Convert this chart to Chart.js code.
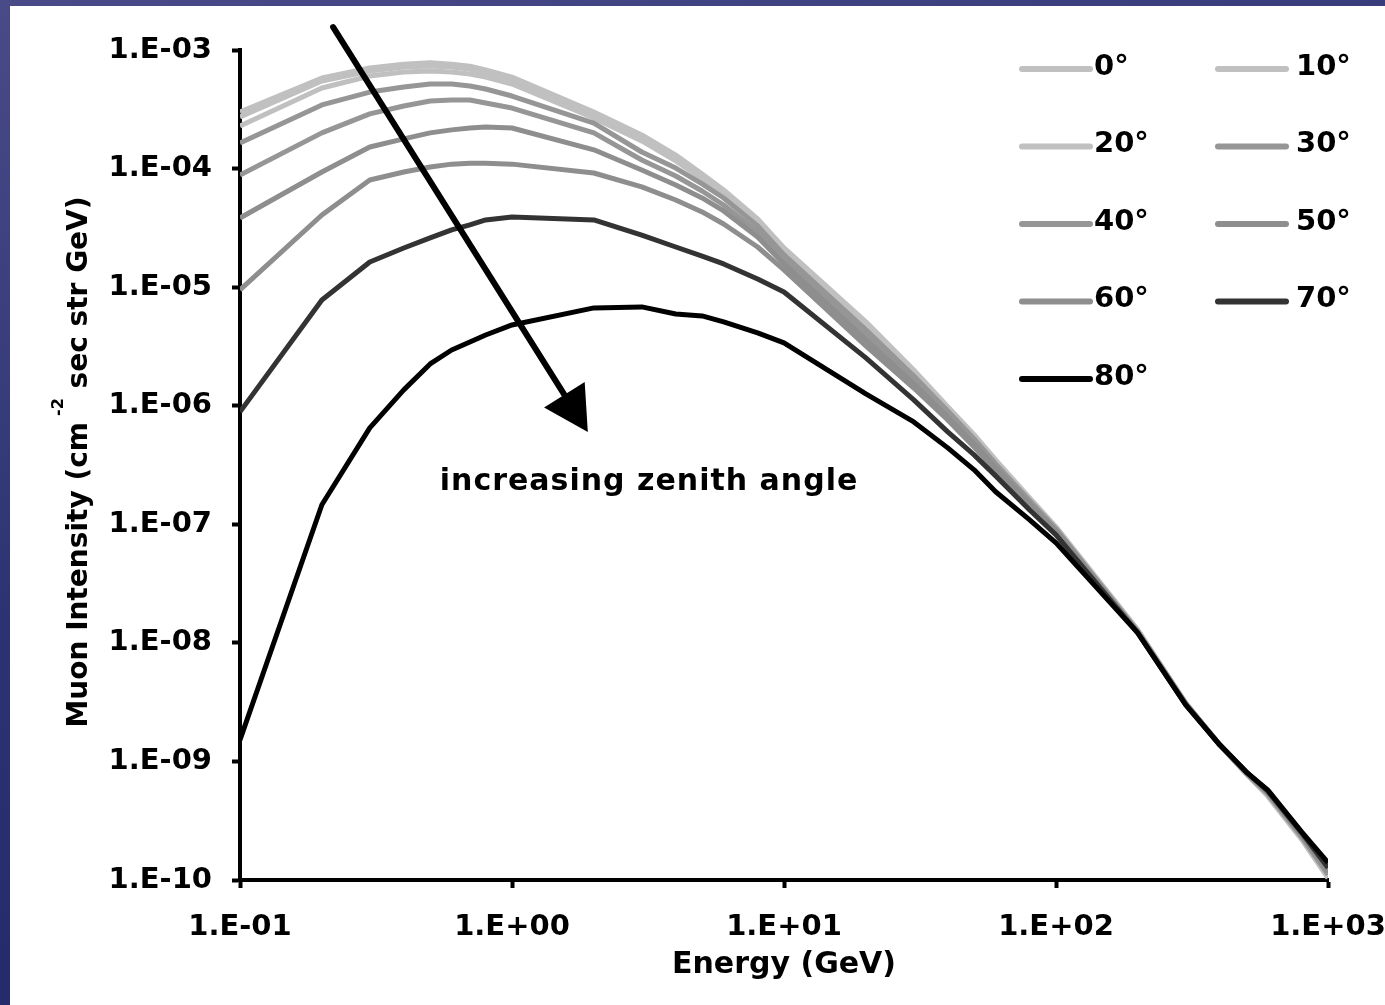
<!DOCTYPE html>
<html>
<head>
<meta charset="utf-8">
<script src="https://cdn.jsdelivr.net/npm/chart.js@4.4.1/dist/chart.umd.min.js"></script>
<style>
  html, body { margin: 0; padding: 0; width: 1385px; height: 1005px; overflow: hidden; }
  body { position: relative; background: linear-gradient(165deg, #494b88 0%, #2d3372 45%, #1c2465 100%); }
  .foglio { position: absolute; left: 10px; top: 6px; right: 0; bottom: 0; background: #fff; }
  canvas { position: absolute; left: 0; top: 0; }
</style>
</head>
<body>
<div class="foglio"></div>
<canvas id="grafico" width="1385" height="1005"></canvas>
<script>
const energies = [0.1, 0.2, 0.3, 0.4, 0.5, 0.6, 0.7, 0.8, 1, 2, 3, 4, 5, 6, 8, 10, 20, 30, 40, 50, 60, 80, 100, 200, 300, 400, 500, 600, 800, 1000];

const zen0 = [3.0e-4, 5.8e-4, 7.05e-4, 7.6e-4, 7.8e-4, 7.6e-4, 7.3e-4, 6.8e-4, 5.9e-4, 3.0e-4, 1.92e-4, 1.3e-4, 9.0e-5, 6.6e-5, 3.76e-5, 2.14e-5, 5.1e-6, 2.0e-6, 9.8e-7, 5.7e-7, 3.5e-7, 1.67e-7, 9.5e-8, 1.29e-8, 3.1e-9, 1.38e-9, 7.9e-10, 5.1e-10, 2.2e-10, 1.04e-10];
const zen10 = [2.72e-4, 5.48e-4, 6.65e-4, 7.19e-4, 7.33e-4, 7.19e-4, 6.92e-4, 6.40e-4, 5.58e-4, 2.83e-4, 1.81e-4, 1.23e-4, 8.66e-5, 6.35e-5, 3.62e-5, 2.06e-5, 4.89e-6, 1.93e-6, 9.58e-7, 5.56e-7, 3.42e-7, 1.64e-7, 9.32e-8, 1.26e-8, 3.12e-9, 1.38e-9, 7.86e-10, 5.23e-10, 2.23e-10, 1.06e-10];
const zen20 = [2.29e-4, 4.78e-4, 6.04e-4, 6.52e-4, 6.65e-4, 6.52e-4, 6.27e-4, 5.92e-4, 5.17e-4, 2.67e-4, 1.71e-4, 1.16e-4, 8.17e-5, 5.99e-5, 3.41e-5, 1.98e-5, 4.71e-6, 1.89e-6, 9.40e-7, 5.46e-7, 3.36e-7, 1.61e-7, 9.15e-8, 1.24e-8, 3.06e-9, 1.38e-9, 7.86e-10, 5.23e-10, 2.27e-10, 1.08e-10];
const zen30 = [1.64e-4, 3.44e-4, 4.42e-4, 4.88e-4, 5.17e-4, 5.17e-4, 4.97e-4, 4.69e-4, 4.09e-4, 2.42e-4, 1.38e-4, 1.01e-4, 7.42e-5, 5.65e-5, 3.28e-5, 1.87e-5, 4.36e-6, 1.78e-6, 9.04e-7, 5.25e-7, 3.23e-7, 1.58e-7, 9.15e-8, 1.24e-8, 3.06e-9, 1.38e-9, 8.01e-10, 5.33e-10, 2.31e-10, 1.11e-10];
const zen40 = [8.83e-5, 2.00e-4, 2.89e-4, 3.37e-4, 3.72e-4, 3.79e-4, 3.79e-4, 3.57e-4, 3.24e-4, 2.00e-4, 1.18e-4, 8.66e-5, 6.47e-5, 4.93e-5, 2.92e-5, 1.70e-5, 3.95e-6, 1.65e-6, 8.53e-7, 5.05e-7, 3.11e-7, 1.52e-7, 8.97e-8, 1.24e-8, 3.06e-9, 1.38e-9, 8.01e-10, 5.43e-10, 2.36e-10, 1.13e-10];
const zen50 = [3.83e-5, 9.36e-5, 1.52e-4, 1.78e-4, 2.00e-4, 2.12e-4, 2.20e-4, 2.24e-4, 2.20e-4, 1.44e-4, 9.73e-5, 7.27e-5, 5.65e-5, 4.39e-5, 2.65e-5, 1.57e-5, 3.59e-6, 1.53e-6, 8.05e-7, 4.76e-7, 2.99e-7, 1.49e-7, 8.80e-8, 1.24e-8, 3.06e-9, 1.38e-9, 8.17e-10, 5.54e-10, 2.40e-10, 1.17e-10];
const zen60 = [9.47e-6, 4.06e-5, 8.01e-5, 9.36e-5, 1.03e-4, 1.09e-4, 1.11e-4, 1.11e-4, 1.09e-4, 9.18e-5, 7.00e-5, 5.43e-5, 4.31e-5, 3.41e-5, 2.18e-5, 1.40e-5, 3.19e-6, 1.41e-6, 7.59e-7, 4.49e-7, 2.88e-7, 1.43e-7, 8.63e-8, 1.24e-8, 3.06e-9, 1.38e-9, 8.17e-10, 5.54e-10, 2.45e-10, 1.22e-10];
const zen70 = [8.87e-7, 7.80e-6, 1.63e-5, 2.14e-5, 2.60e-5, 3.04e-5, 3.35e-5, 3.69e-5, 3.91e-5, 3.69e-5, 2.75e-5, 2.18e-5, 1.83e-5, 1.57e-5, 1.17e-5, 9.11e-6, 2.53e-6, 1.12e-6, 6.01e-7, 3.85e-7, 2.56e-7, 1.32e-7, 8.14e-8, 1.21e-8, 3.00e-9, 1.38e-9, 8.17e-10, 5.65e-10, 2.50e-10, 1.27e-10];
const zen80 = [1.52e-9, 1.46e-7, 6.50e-7, 1.36e-6, 2.25e-6, 2.95e-6, 3.45e-6, 3.95e-6, 4.80e-6, 6.68e-6, 6.81e-6, 5.94e-6, 5.72e-6, 5.09e-6, 4.11e-6, 3.39e-6, 1.26e-6, 7.30e-7, 4.41e-7, 2.88e-7, 1.88e-7, 1.09e-7, 6.97e-8, 1.21e-8, 3.00e-9, 1.38e-9, 8.17e-10, 5.76e-10, 2.55e-10, 1.40e-10];

const angleLabels = ["0°", "10°", "20°", "30°", "40°", "50°", "60°", "70°", "80°"];
const series = [zen0, zen10, zen20, zen30, zen40, zen50, zen60, zen70, zen80];
const lineColors = ["#c0c0c0", "#c0c0c0", "#c0c0c0", "#969696", "#969696", "#8e8e8e", "#8e8e8e", "#333333", "#000000"];

const xTicks = [0.1, 1, 10, 100, 1000];
const xTickLabels = ["1.E-01", "1.E+00", "1.E+01", "1.E+02", "1.E+03"];
const yTicks = [1e-10, 1e-9, 1e-8, 1e-7, 1e-6, 1e-5, 1e-4, 1e-3];
const yTickLabels = ["1.E-10", "1.E-09", "1.E-08", "1.E-07", "1.E-06", "1.E-05", "1.E-04", "1.E-03"];

// arrow from / to, in (energy, intensity)
const arrowFrom = [0.22, 1.56e-3];
const arrowTo = [1.9, 6.0e-7];
const arrowText = "increasing zenith angle";
const arrowTextAt = [3.19, 1.95e-7];

const FONT = '"DejaVu Sans", sans-serif';

const datasets = series.map(function (vals, i) {
  return {
    label: angleLabels[i],
    data: vals.map((v, k) => ({ x: energies[k], y: v })),
    borderColor: lineColors[i],
    borderWidth: 5,
    pointRadius: 0,
    fill: false,
    tension: 0,
    borderJoinStyle: "round",
    order: series.length - 1 - i,
  };
});

const titoloY = {
  id: "titoloY",
  afterDraw(chart) {
    const ctx = chart.ctx;
    const area = chart.chartArea;
    const main1 = "Muon Intensity (cm";
    const sup = "-2";
    const main2 = " sec str GeV)";
    ctx.save();
    ctx.fillStyle = "#000";
    ctx.textBaseline = "alphabetic";
    ctx.textAlign = "left";
    ctx.font = "bold 28px " + FONT;
    const w1 = ctx.measureText(main1).width;
    const w2 = ctx.measureText(main2).width;
    ctx.font = "bold 16px " + FONT;
    const ws = ctx.measureText(sup).width;
    const total = w1 + 6 + ws + w2;
    ctx.translate(87, (area.top + area.bottom) / 2 - 3);
    ctx.rotate(-Math.PI / 2);
    let u = -total / 2;
    ctx.font = "bold 28px " + FONT;
    ctx.fillText(main1, u, 0);
    u += w1 + 6;
    ctx.font = "bold 16px " + FONT;
    ctx.fillText(sup, u, -24);
    u += ws;
    ctx.font = "bold 28px " + FONT;
    ctx.fillText(main2, u, 0);
    ctx.restore();
  },
};

const freccia = {
  id: "freccia",
  afterDatasetsDraw(chart) {
    const ctx = chart.ctx;
    const sx = chart.scales.x;
    const sy = chart.scales.y;
    const x0 = sx.getPixelForValue(arrowFrom[0]);
    const y0 = sy.getPixelForValue(arrowFrom[1]);
    const x1 = sx.getPixelForValue(arrowTo[0]);
    const y1 = sy.getPixelForValue(arrowTo[1]);
    const len = Math.hypot(x1 - x0, y1 - y0);
    const ux = (x1 - x0) / len;
    const uy = (y1 - y0) / len;
    const bx = x1 - ux * 44;
    const by = y1 - uy * 44;
    ctx.save();
    ctx.strokeStyle = "#000";
    ctx.fillStyle = "#000";
    ctx.lineWidth = 6;
    ctx.lineCap = "round";
    ctx.beginPath();
    ctx.moveTo(x0, y0);
    ctx.lineTo(bx + ux * 4, by + uy * 4);
    ctx.stroke();
    ctx.beginPath();
    ctx.moveTo(x1, y1);
    ctx.lineTo(bx - uy * 24, by + ux * 24);
    ctx.lineTo(bx + uy * 24, by - ux * 24);
    ctx.closePath();
    ctx.fill();

    ctx.font = "bold 30px " + FONT;
    ctx.textAlign = "center";
    ctx.textBaseline = "alphabetic";
    ctx.letterSpacing = "1px";
    ctx.fillText(arrowText, sx.getPixelForValue(arrowTextAt[0]), sy.getPixelForValue(arrowTextAt[1]));
    ctx.restore();
  },
};

const legendaAngoli = {
  id: "legendaAngoli",
  afterDraw(chart) {
    const ctx = chart.ctx;
    const area = chart.chartArea;
    ctx.save();
    ctx.font = "bold 29px " + FONT;
    ctx.textBaseline = "middle";
    ctx.textAlign = "left";
    ctx.lineCap = "round";
    chart.data.datasets.forEach(function (ds, i) {
      const col = i % 2;
      const row = Math.floor(i / 2);
      const x = area.right - 308 + col * 196;
      const y = area.top + 17 + row * 77.5;
      ctx.strokeStyle = ds.borderColor;
      ctx.lineWidth = 6;
      ctx.beginPath();
      ctx.moveTo(x + 2, y + 2);
      ctx.lineTo(x + 70, y + 2);
      ctx.stroke();
      ctx.fillStyle = "#000";
      ctx.fillText(ds.label, x + 74 + col * 6, y);
    });
    ctx.restore();
  },
};

const tickFont = { family: FONT, size: 29, weight: "bold" };

const config = {
  type: "line",
  data: { datasets: datasets },
  options: {
    responsive: false,
    animation: false,
    layout: { padding: { top: 50, right: 57, left: 0, bottom: 0 } },
    plugins: {
      legend: { display: false },
      tooltip: { enabled: false },
    },
    scales: {
      x: {
        type: "logarithmic",
        min: 0.1,
        max: 1000,
        afterBuildTicks: (s) => { s.ticks = xTicks.map((v) => ({ value: v })); },
        afterFit: (s) => {
          s.height = 125;
          s.paddingLeft = 0;
          s.paddingRight = 0;
        },
        ticks: {
          callback: (v, i) => xTickLabels[i],
          font: tickFont,
          color: "#000",
          padding: 22,
          maxRotation: 0,
          autoSkip: false,
        },
        grid: { drawOnChartArea: false, drawTicks: true, tickLength: 8, tickWidth: 4, tickColor: "#000" },
        border: { color: "#000", width: 4 },
        title: {
          display: true,
          text: "Energy (GeV)",
          color: "#000",
          font: { family: FONT, size: 30, weight: "bold", lineHeight: 1.2 },
          padding: { top: 0, bottom: 22 },
        },
      },
      y: {
        type: "logarithmic",
        min: 1e-10,
        max: 1e-3,
        afterBuildTicks: (s) => { s.ticks = yTicks.map((v) => ({ value: v })); },
        afterFit: (s) => {
          s.width = 240;
          s.paddingTop = 0;
          s.paddingBottom = 0;
        },
        ticks: {
          callback: (v, i) => yTickLabels[i],
          font: tickFont,
          color: "#000",
          padding: 20,
          autoSkip: false,
        },
        grid: { drawOnChartArea: false, drawTicks: true, tickLength: 8, tickWidth: 4, tickColor: "#000" },
        border: { color: "#000", width: 4 },
      },
    },
  },
  plugins: [freccia, legendaAngoli, titoloY],
};

const grafico = new Chart(document.getElementById("grafico"), config);
</script>
</body>
</html>
